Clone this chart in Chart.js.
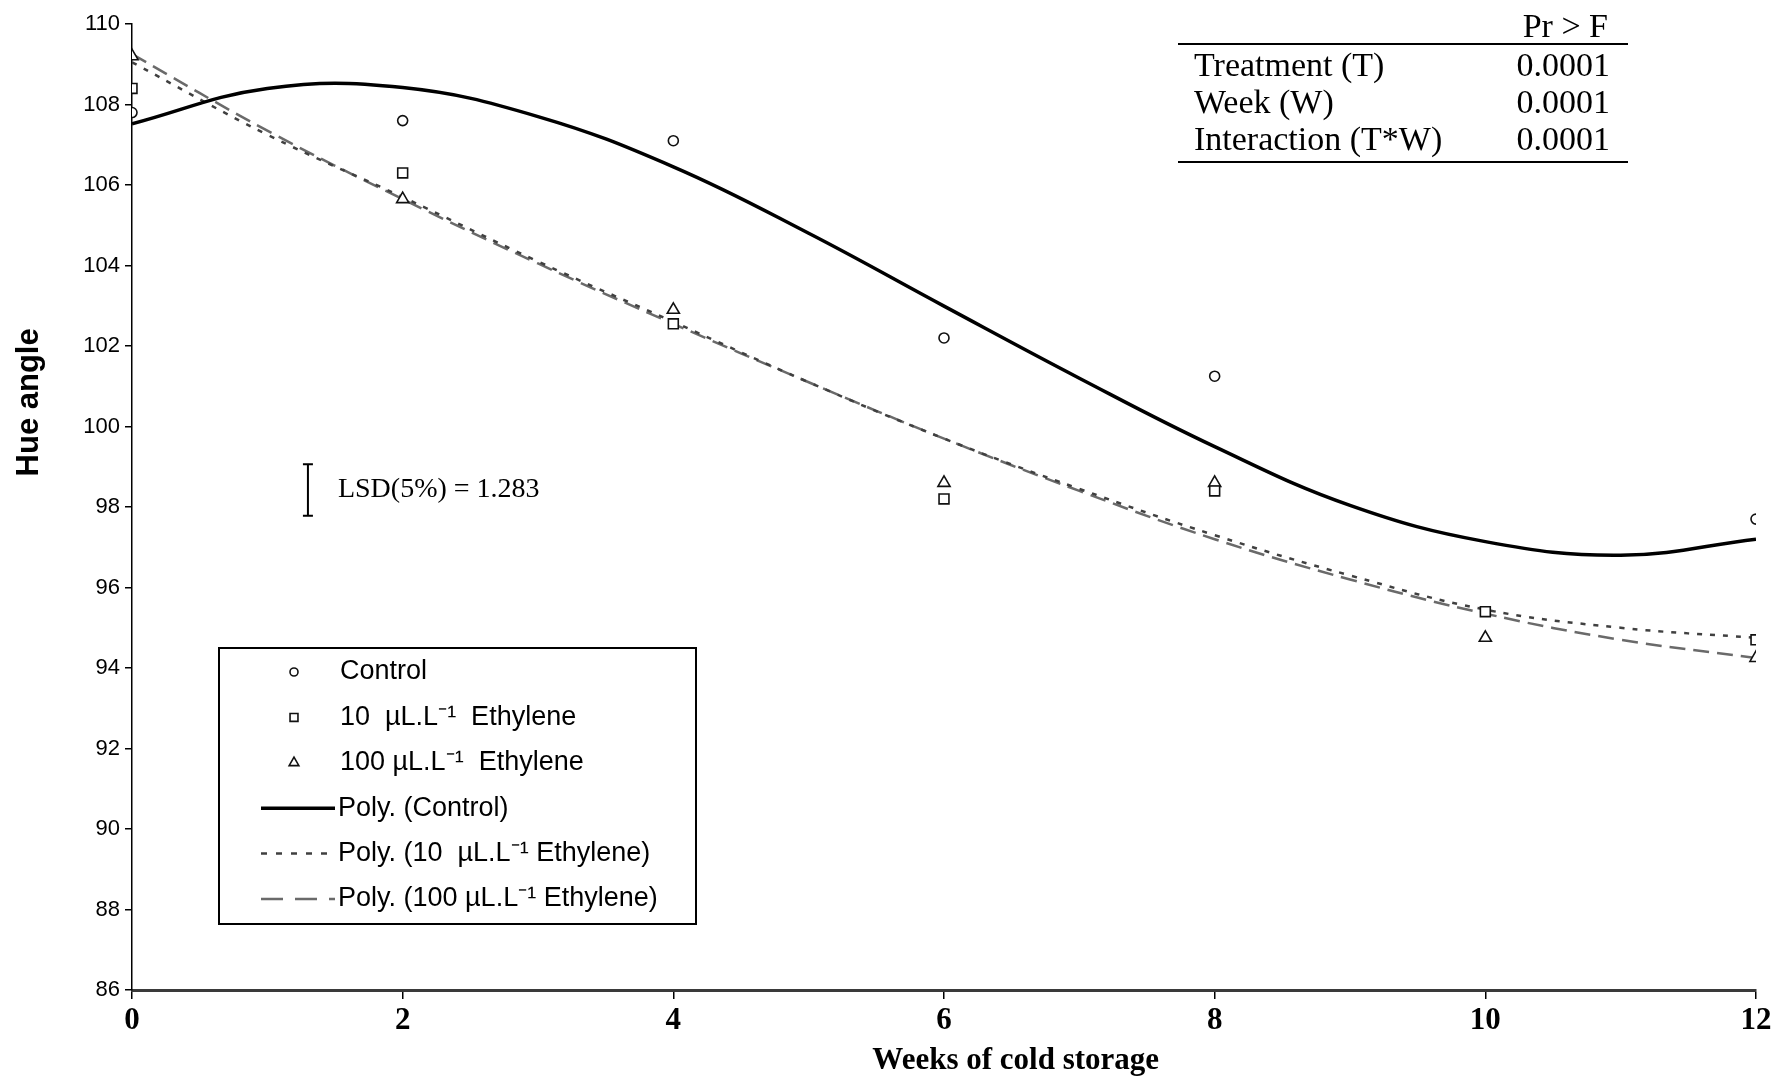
<!DOCTYPE html>
<html>
<head>
<meta charset="utf-8">
<title>Hue angle during cold storage</title>
<script src="https://cdn.jsdelivr.net/npm/chart.js@4.4.1/dist/chart.umd.min.js"></script>
<style>
  html, body { margin: 0; background: #fff; }
  canvas { display: block; }
</style>
</head>
<body>
<canvas id="hueChart" width="1777" height="1078"></canvas>
<script>
// measured hue angle per treatment
const weeks = [0, 2, 4, 6, 8, 10, 12];
const control = [107.8, 107.6, 107.1, 102.2, 101.25, null, 97.7];
const eth10 = [108.4, 106.3, 102.55, 98.2, 98.4, 95.4, 94.7];
const eth100 = [109.2, 105.65, 102.9, 98.6, 98.6, 94.75, 94.25];

// polynomial trend lines, sampled every week
const trendWeeks = [0, 1, 2, 3, 4, 5, 6, 7, 8, 9, 10, 11, 12];
const controlTrend = [107.52, 108.4, 108.42, 107.7, 106.45, 104.8, 102.99, 101.2, 99.5, 98.04, 97.14, 96.8, 97.2];
const eth10Trend = [109.05, 107.25, 105.7, 104.1, 102.6, 101.1, 99.7, 98.45, 97.3, 96.3, 95.45, 95.0, 94.75];
const eth100Trend = [109.25, 107.35, 105.65, 104.05, 102.55, 101.1, 99.7, 98.4, 97.2, 96.2, 95.35, 94.7, 94.25];

const xTicks = [0, 2, 4, 6, 8, 10, 12];
const yTicks = [86, 88, 90, 92, 94, 96, 98, 100, 102, 104, 106, 108, 110];

const anovaTerms = ['Treatment (T)', 'Week (W)', 'Interaction (T*W)'];
const anovaP = ['0.0001', '0.0001', '0.0001'];
const lsd = 1.283;

const SANS = '"Liberation Sans", Arial, sans-serif';
const NARROW = '"Liberation Sans Narrow", "Arial Narrow", "Liberation Sans", Arial, sans-serif';
const SERIF = '"Liberation Serif", "Times New Roman", serif';

function toPoints(xs, ys) {
  return xs.map((x, i) => ({ x: x, y: ys[i] }));
}

const extras = {
  id: 'extras',
  beforeDraw(chart) {
    const ctx = chart.ctx;
    ctx.save();
    ctx.fillStyle = '#fff';
    ctx.fillRect(0, 0, chart.width, chart.height);
    ctx.restore();
  },
  afterDraw(chart) {
    const ctx = chart.ctx;
    const xs = chart.scales.x;
    const ys = chart.scales.y;
    ctx.save();
    ctx.fillStyle = '#000';
    ctx.strokeStyle = '#000';

    // axis titles
    ctx.font = 'bold 31px ' + SANS;
    ctx.textAlign = 'center';
    ctx.textBaseline = 'middle';
    ctx.save();
    ctx.translate(29, ys.getPixelForValue(100.6));
    ctx.rotate(-Math.PI / 2);
    ctx.fillText('Hue angle', 0, 0);
    ctx.restore();

    ctx.font = 'bold 31px ' + SERIF;
    ctx.fillText('Weeks of cold storage', xs.getPixelForValue(6.53), 1061);

    // LSD bar
    const lx = xs.getPixelForValue(1.3);
    const lb = ys.getPixelForValue(97.78);
    const lt = ys.getPixelForValue(97.78 + lsd);
    ctx.lineWidth = 2;
    ctx.beginPath();
    ctx.moveTo(lx, lt); ctx.lineTo(lx, lb);
    ctx.moveTo(lx - 5, lt); ctx.lineTo(lx + 5, lt);
    ctx.moveTo(lx - 5, lb); ctx.lineTo(lx + 5, lb);
    ctx.stroke();
    ctx.font = '28px ' + SERIF;
    ctx.textAlign = 'left';
    ctx.fillText('LSD(5%) = ' + lsd, lx + 30, (lt + lb) / 2);

    // ANOVA table
    ctx.font = '34px ' + SERIF;
    ctx.textBaseline = 'alphabetic';
    ctx.textAlign = 'right';
    ctx.fillText('Pr > F', 1608, 37);
    ctx.lineWidth = 2;
    ctx.beginPath();
    ctx.moveTo(1178, 44); ctx.lineTo(1628, 44);
    ctx.moveTo(1178, 162); ctx.lineTo(1628, 162);
    ctx.stroke();
    anovaTerms.forEach((t, i) => {
      const by = 76 + i * 37;
      ctx.textAlign = 'left';
      ctx.fillText(t, 1194, by);
      ctx.textAlign = 'right';
      ctx.fillText(anovaP[i], 1610, by);
    });

    // legend box
    ctx.lineWidth = 2;
    ctx.strokeRect(219, 648, 477, 276);
    ctx.font = '27px ' + SANS;
    ctx.textAlign = 'left';
    ctx.textBaseline = 'middle';
    chart.data.datasets.forEach((ds, i) => {
      const ry = 672 + i * 45.4;
      ctx.save();
      ctx.strokeStyle = ds.borderColor;
      if (ds.showLine) {
        ctx.lineWidth = ds.borderWidth;
        ctx.setLineDash(ds.legendDash || ds.borderDash || []);
        ctx.beginPath();
        ctx.moveTo(261, ry); ctx.lineTo(335, ry);
        ctx.stroke();
        ctx.restore();
        ctx.fillText(ds.label, 338, ry);
      } else {
        ctx.fillStyle = ds.backgroundColor;
        ctx.lineWidth = ds.borderWidth;
        Chart.helpers.drawPoint(ctx, {
          pointStyle: ds.pointStyle, rotation: 0,
          radius: ds.pointRadius * 0.8, borderWidth: ds.borderWidth
        }, 294, ry);
        ctx.restore();
        ctx.fillText(ds.label, 340, ry);
      }
    });
    ctx.restore();
  }
};

const markerBase = {
  showLine: false,
  borderColor: '#111',
  backgroundColor: '#fff',
  borderWidth: 1.6
};

new Chart(document.getElementById('hueChart').getContext('2d'), {
  type: 'scatter',
  data: {
    datasets: [
      Object.assign({ label: 'Control', data: toPoints(weeks, control), pointStyle: 'circle', pointRadius: 5 }, markerBase),
      Object.assign({ label: '10  µL.L⁻¹  Ethylene', data: toPoints(weeks, eth10), pointStyle: 'rect', pointRadius: 7 }, markerBase),
      Object.assign({ label: '100 µL.L⁻¹  Ethylene', data: toPoints(weeks, eth100), pointStyle: 'triangle', pointRadius: 7 }, markerBase),
      {
        label: 'Poly. (Control)',
        data: toPoints(trendWeeks, controlTrend),
        showLine: true, pointRadius: 0, tension: 0.4,
        borderColor: '#000', borderWidth: 3.5
      },
      {
        label: 'Poly. (10  µL.L⁻¹ Ethylene)',
        data: toPoints(trendWeeks, eth10Trend),
        showLine: true, pointRadius: 0, tension: 0.4,
        borderColor: '#404040', borderWidth: 2.5, borderDash: [5, 8],
        legendDash: [6, 9]
      },
      {
        label: 'Poly. (100 µL.L⁻¹ Ethylene)',
        data: toPoints(trendWeeks, eth100Trend),
        showLine: true, pointRadius: 0, tension: 0.4,
        borderColor: '#6a6a6a', borderWidth: 2.5, borderDash: [16, 8],
        legendDash: [22, 12]
      }
    ]
  },
  options: {
    responsive: false,
    animation: false,
    layout: { padding: { top: 24, right: 21, bottom: 0, left: 0 } },
    plugins: {
      legend: { display: false },
      tooltip: { enabled: false }
    },
    scales: {
      x: {
        type: 'linear',
        min: 0,
        max: 12,
        afterBuildTicks: s => { s.ticks = xTicks.map(v => ({ value: v })); },
        afterFit: s => { s.height = 88; },
        ticks: { color: '#000', padding: 3, font: { family: SERIF, size: 31, weight: 'bold' } },
        grid: { drawOnChartArea: false, tickLength: 9, color: '#000', lineWidth: 1.5 },
        border: { color: '#3a3a3a', width: 3 }
      },
      y: {
        min: 86,
        max: 110,
        afterBuildTicks: s => { s.ticks = yTicks.map(v => ({ value: v })); },
        afterFit: s => { s.width = 132; },
        ticks: { color: '#000', padding: 5, font: { family: NARROW, size: 22 } },
        grid: { drawOnChartArea: false, tickLength: 7, color: '#000', lineWidth: 1.5 },
        border: { color: '#000', width: 1.5 }
      }
    }
  },
  plugins: [extras]
});
</script>
</body>
</html>
